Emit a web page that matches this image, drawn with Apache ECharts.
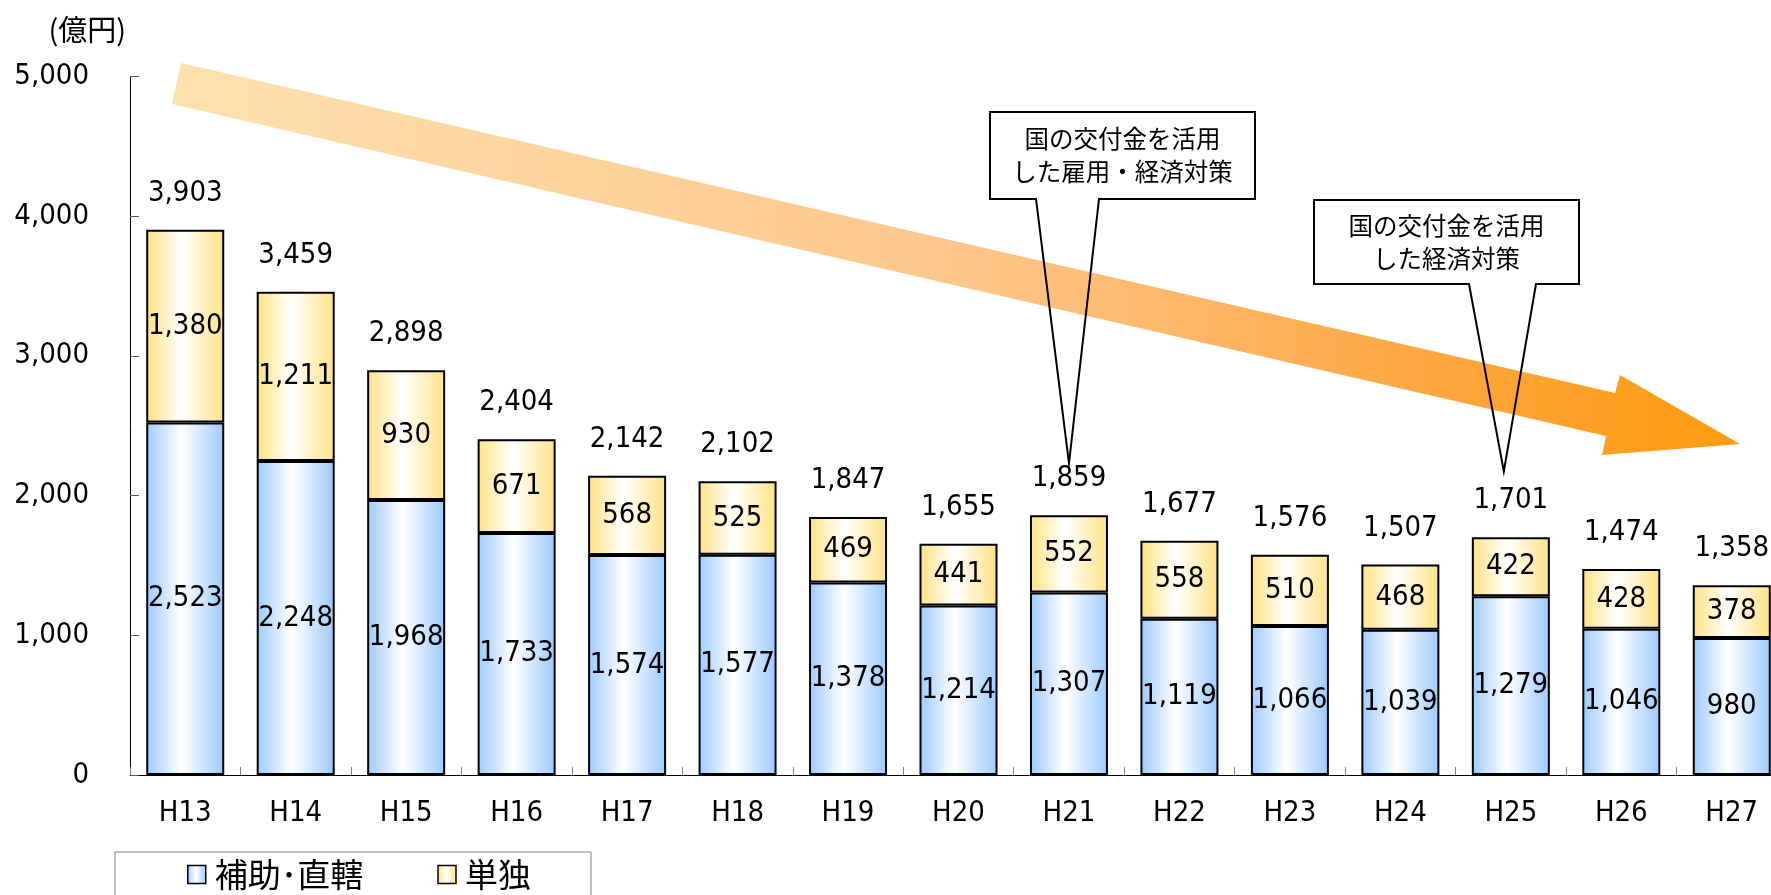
<!DOCTYPE html>
<html>
<head>
<meta charset="utf-8">
<script src="https://cdn.jsdelivr.net/npm/echarts@6/dist/echarts.min.js"></script>
<style>
  html, body { margin: 0; padding: 0; background: #ffffff; }
  #chart { width: 1771px; height: 895px; }
</style>
</head>
<body>
<div id="chart"></div>
<script>
// Fiscal years (Heisei)
const categories = ['H13', 'H14', 'H15', 'H16', 'H17', 'H18', 'H19', 'H20', 'H21', 'H22', 'H23', 'H24', 'H25', 'H26', 'H27'];
// 補助・直轄 (subsidized / direct works), 億円
const subsidized = [2523, 2248, 1968, 1733, 1574, 1577, 1378, 1214, 1307, 1119, 1066, 1039, 1279, 1046, 980];
// 単独 (independent works), 億円
const independent = [1380, 1211, 930, 671, 568, 525, 469, 441, 552, 558, 510, 468, 422, 428, 378];
// Yearly totals
const totals = subsidized.map((v, i) => v + independent[i]);

const seriesNames = ['補助･直轄', '単独'];
const unitLabel = '(億円)';

const NUM_FONT = "'DejaVu Sans Condensed', 'DejaVu Sans', sans-serif";
const JP_FONT = "'Noto Sans CJK JP', sans-serif";
const fmt = v => Number(v).toLocaleString('en-US');

function barGradient(edge) {
  return {
    type: 'linear', x: 0, y: 0, x2: 1, y2: 0,
    colorStops: [
      { offset: 0, color: edge },
      { offset: 0.45, color: '#ffffff' },
      { offset: 1, color: edge }
    ]
  };
}

const chart = echarts.init(document.getElementById('chart'), null, { renderer: 'canvas' });

const insideLabel = {
  show: true,
  position: 'inside',
  formatter: p => fmt(p.value),
  fontFamily: NUM_FONT,
  fontSize: 29,
  color: '#000000'
};

const BAR_W = 78;

chart.setOption({
  animation: false,
  backgroundColor: '#ffffff',
  grid: {
    left: 130, top: 76.5, width: 1657, height: 698.5,
    containLabel: false, outerBoundsMode: 'none'
  },
  legend: {
    data: seriesNames,
    icon: 'rect',
    left: 115, top: 852,
    orient: 'horizontal',
    itemWidth: 18, itemHeight: 18,
    itemGap: 74,
    padding: [6, 60, 40, 72],
    borderColor: '#808080', borderWidth: 1,
    backgroundColor: '#ffffff',
    textStyle: { fontFamily: JP_FONT, fontSize: 33, color: '#000000', padding: [0, 0, 0, 4] },
    itemStyle: { borderColor: '#000000', borderWidth: 1.5 }
  },
  xAxis: {
    type: 'category',
    data: categories,
    boundaryGap: true,
    axisLine: { lineStyle: { color: '#000000', width: 1 } },
    axisTick: { show: true, inside: true, length: 8, alignWithLabel: false, lineStyle: { color: '#7f7f7f' } },
    axisLabel: { fontFamily: NUM_FONT, fontSize: 29, color: '#000000', margin: 24 },
    splitLine: { show: false }
  },
  yAxis: {
    type: 'value',
    min: 0, max: 5000, interval: 1000,
    name: unitLabel,
    nameLocation: 'end',
    nameGap: 32,
    nameTextStyle: { fontFamily: JP_FONT, fontSize: 29, color: '#000000', align: 'right', padding: [0, 4, 0, 0] },
    axisLine: { show: true, lineStyle: { color: '#000000', width: 1 } },
    axisTick: { show: true, inside: true, length: 9, lineStyle: { color: '#595959' } },
    axisLabel: { fontFamily: NUM_FONT, fontSize: 29, color: '#000000', margin: 41, formatter: v => fmt(v) },
    splitLine: { show: false }
  },
  series: [
    {
      name: seriesNames[0],
      type: 'bar',
      stack: 'total',
      barWidth: BAR_W,
      barGap: '-100%',
      data: subsidized,
      itemStyle: { color: barGradient('#9ccaff'), borderColor: '#000000', borderWidth: 2 },
      label: insideLabel,
      z: 3
    },
    {
      name: seriesNames[1],
      type: 'bar',
      stack: 'total',
      barWidth: BAR_W,
      barGap: '-100%',
      data: independent,
      itemStyle: { color: barGradient('#ffe283'), borderColor: '#000000', borderWidth: 2 },
      label: insideLabel,
      z: 3
    },
    {
      // invisible overlay bar carrying each year's total above the stack
      name: 'total',
      type: 'bar',
      barWidth: BAR_W,
      barGap: '-100%',
      data: totals,
      silent: true,
      itemStyle: { color: 'rgba(0,0,0,0)', borderWidth: 0 },
      label: {
        show: true,
        position: 'top',
        distance: 22,
        formatter: p => fmt(p.value),
        fontFamily: NUM_FONT,
        fontSize: 29,
        color: '#000000'
      },
      z: 2
    }
  ]
});

// Decorative downward-trend arrow (pixel layout)
const trendArrow = [
  [181, 63], [1615, 393], [1620, 375], [1740, 444],
  [1602, 455], [1606, 436], [172, 104]
];

// Callout notes pointing at particular years' totals
const callouts = [
  { year: 'H21', text: '国の交付金を活用\nした雇用・経済対策', box: [990, 112, 1255, 199], base: [1036, 1099], rise: 52, dx: 0 },
  { year: 'H25', text: '国の交付金を活用\nした経済対策', box: [1314, 200, 1579, 284], base: [1469, 1536], rise: 66, dx: -7 }
];

const graphics = [{
  type: 'polygon',
  z: 1,
  silent: true,
  shape: { points: trendArrow },
  style: {
    fill: {
      type: 'linear', x: 0, y: 0, x2: 1, y2: 0,
      colorStops: [
        { offset: 0, color: '#fee1b0' },
        { offset: 0.5, color: '#fcc68b' },
        { offset: 0.8, color: '#fea740' },
        { offset: 1, color: '#ff9a10' }
      ]
    }
  }
}];

callouts.forEach(c => {
  const idx = categories.indexOf(c.year);
  const pt = chart.convertToPixel({ seriesIndex: 2 }, [idx, totals[idx]]);
  const tip = [pt[0] + c.dx, pt[1] - c.rise];
  const [x0, y0, x1, y1] = c.box;
  graphics.push({
    type: 'rect',
    z: 10,
    silent: true,
    shape: { x: x0, y: y0, width: x1 - x0, height: y1 - y0 },
    style: { fill: '#ffffff', stroke: null }
  });
  graphics.push({
    type: 'polygon',
    z: 11,
    silent: true,
    shape: {
      points: [
        [c.base[0], y1], [x0, y1], [x0, y0], [x1, y0], [x1, y1],
        [c.base[1], y1], tip
      ]
    },
    style: { fill: 'rgba(255,255,255,0)', stroke: '#000000', lineWidth: 2, lineJoin: 'miter' }
  });
  graphics.push({
    type: 'text',
    z: 12,
    silent: true,
    x: (x0 + x1) / 2,
    y: (y0 + y1) / 2,
    style: {
      text: c.text,
      fontFamily: JP_FONT,
      fontSize: 24.5,
      lineHeight: 33,
      fill: '#000000',
      align: 'center',
      verticalAlign: 'middle'
    }
  });
});

chart.setOption({ graphic: graphics });
</script>
</body>
</html>
